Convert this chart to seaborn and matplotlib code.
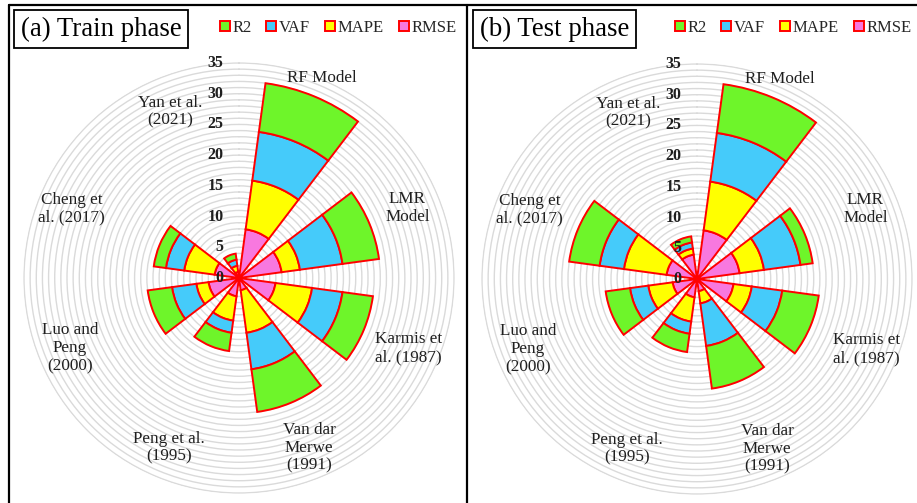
import numpy as np
import matplotlib
matplotlib.use("Agg")
import matplotlib.pyplot as plt
import seaborn as sns
from matplotlib.patches import Patch
from matplotlib.lines import Line2D
from matplotlib.transforms import offset_copy

# ---------------- data ----------------
categories = ["RF Model", "LMR\nModel", "Karmis et\nal. (1987)", "Van dar\nMerwe\n(1991)",
              "Peng et al.\n(1995)", "Luo and\nPeng\n(2000)", "Cheng et\nal. (2017)",
              "Yan et al.\n(2021)"]
metrics = ["RMSE", "MAPE", "VAF", "R2"]          # stacking order, inner -> outer

train_rmse = [8, 7, 6, 2, 3, 5, 4, 1]
train_mape = [8, 3, 6, 7, 4, 2, 5, 1]
train_vaf  = [8, 7, 5, 6, 2, 4, 3, 1]
train_r2   = [8, 6, 5, 7, 3, 4, 2, 1]

test_rmse = [8, 7, 6, 2, 3, 4, 5, 4]
test_mape = [8, 4, 3, 2, 4, 4, 7, 1]
test_vaf  = [8, 6, 5, 7, 2, 3, 4, 1]
test_r2   = [8, 2, 6, 7, 3, 4, 5, 1]

radial_ticks = [0, 5, 10, 15, 20, 25, 30, 35]

# ---------------- style ----------------
sns.set_style("white")
plt.rcParams["font.family"] = ["Liberation Serif", "DejaVu Serif"]
colors = {"R2": "#6EF52A", "VAF": "#45CBFA", "MAPE": "#FFFF00", "RMSE": "#F878DF"}
edge = "#FF0000"
txt = "#1f1f1f"

fig = plt.figure(figsize=(9.17, 5.03), dpi=100)

label_r = [35.2, 29.7, 29.9, 29.9, 29.9, 29.8, 29.5, 29.3]


def draw_panel(rect, data, title, title_x, legend_x):
    ax = fig.add_axes(rect, projection="polar")
    ax.set_theta_zero_location("N")
    ax.set_theta_direction(-1)
    n = len(categories)
    theta = np.deg2rad(22.5 + 45 * np.arange(n))
    width = np.deg2rad(29.5)
    bottom = np.zeros(n)
    for m in metrics:
        vals = np.array(data[m], dtype=float)
        ax.bar(theta, vals, width=width, bottom=bottom, color=colors[m],
               edgecolor=edge, linewidth=1.4, zorder=3)
        bottom = bottom + vals
    ax.set_ylim(0, 35.15)
    ax.set_yticks(np.arange(1, 36, 1))
    ax.set_yticklabels([])
    ax.set_xticks([])
    ax.yaxis.grid(True, color="#dadada", linewidth=1.0)
    ax.xaxis.grid(False)
    ax.spines["polar"].set_visible(False)
    ax.set_axisbelow(True)
    ax.patch.set_alpha(0)
    tr = offset_copy(ax.transData, fig=fig, x=-11, y=0, units="points")
    for v in radial_ticks:
        ax.text(0, v, str(v), transform=tr, ha="right", va="center",
                fontsize=11.5, fontweight="bold", color=txt, zorder=5)
    for t, lab, r in zip(theta, categories, label_r):
        ax.text(t, r, lab, ha="center", va="center", multialignment="center",
                fontsize=12.3, color=txt, linespacing=1.18, zorder=5)
    fig.text(title_x, 1 - 29 / 503, title, ha="left", va="center", fontsize=19.3,
             color="black",
             bbox=dict(boxstyle="square,pad=0.25", fc="white", ec="black", lw=1.3))
    handles = [Patch(facecolor=colors[k], edgecolor=edge, linewidth=1.4, label=k)
               for k in ["R2", "VAF", "MAPE", "RMSE"]]
    fig.legend(handles=handles, loc="center", bbox_to_anchor=(legend_x, 1 - 28 / 503),
               ncol=4, frameon=False, fontsize=12, handlelength=0.6, handleheight=0.6,
               handletextpad=0.15, columnspacing=0.9, borderaxespad=0)
    return ax


train = {"RMSE": train_rmse, "MAPE": train_mape, "VAF": train_vaf, "R2": train_r2}
test = {"RMSE": test_rmse, "MAPE": test_mape, "VAF": test_vaf, "R2": test_r2}

R = 35.15 * 215 / 35
draw_panel([(239 - R) / 917, (503 - 278 - R) / 503, 2 * R / 917, 2 * R / 503],
           train, "(a) Train phase", 21 / 917, 338 / 917)
draw_panel([(697 - R) / 917, (503 - 279 - R) / 503, 2 * R / 917, 2 * R / 503],
           test, "(b) Test phase", 480 / 917, 793 / 917)

# panel frames
lw = 1.6
fig.add_artist(Line2D([9 / 917, 9 / 917], [0, 1 - 5 / 503], color="black", lw=lw))
fig.add_artist(Line2D([9 / 917, 1], [1 - 5 / 503, 1 - 5 / 503], color="black", lw=lw))
fig.add_artist(Line2D([467 / 917, 467 / 917], [0, 1 - 5 / 503], color="black", lw=lw))

fig.savefig("out.png", dpi=100)
